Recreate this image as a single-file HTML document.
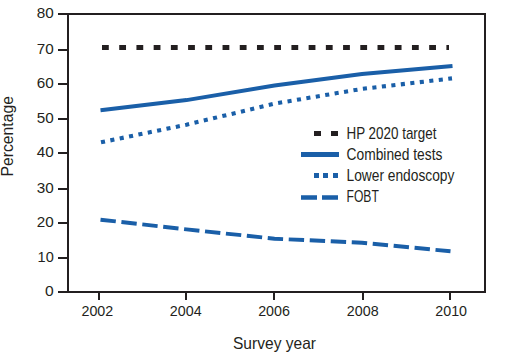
<!DOCTYPE html>
<html><head><meta charset="utf-8"><style>
html,body{margin:0;padding:0;background:#fff;}
svg{display:block;}
text{font-family:"Liberation Sans",sans-serif;fill:#231f20;}

</style></head><body>
<svg width="507" height="355" viewBox="0 0 507 355">
<g stroke="#231f20" stroke-width="2" fill="none">
  <path d="M68 14 H485 V292 H68 Z"/>
  <path d="M58 14H68M58 50H68M58 84H68M58 119H68M58 153H68M58 189H68M58 223H68M58 258H68M58 292H68"/>
  <path d="M99 292V300M186 292V300M274 292V300M363 292V300M450 292V300"/>
</g>
<g class="d" font-size="14" text-anchor="end">
  <text x="53.8" y="18" textLength="17" lengthAdjust="spacingAndGlyphs">80</text>
  <text x="53.8" y="54" textLength="17" lengthAdjust="spacingAndGlyphs">70</text>
  <text x="53.8" y="88" textLength="17" lengthAdjust="spacingAndGlyphs">60</text>
  <text x="53.8" y="123" textLength="17" lengthAdjust="spacingAndGlyphs">50</text>
  <text x="53.8" y="157" textLength="17" lengthAdjust="spacingAndGlyphs">40</text>
  <text x="53.8" y="193" textLength="17" lengthAdjust="spacingAndGlyphs">30</text>
  <text x="53.8" y="227" textLength="17" lengthAdjust="spacingAndGlyphs">20</text>
  <text x="53.8" y="262" textLength="16.2" lengthAdjust="spacingAndGlyphs">10</text>
  <text x="53.8" y="296" textLength="8.7" lengthAdjust="spacingAndGlyphs">0</text>
</g>
<g class="d" font-size="14" text-anchor="middle">
  <text x="97.35" y="316" textLength="31.8" lengthAdjust="spacingAndGlyphs">2002</text>
  <text x="185.7" y="316" textLength="31.8" lengthAdjust="spacingAndGlyphs">2004</text>
  <text x="274.05" y="316" textLength="31.8" lengthAdjust="spacingAndGlyphs">2006</text>
  <text x="362.7" y="316" textLength="31.8" lengthAdjust="spacingAndGlyphs">2008</text>
  <text x="451.15" y="316" textLength="31.8" lengthAdjust="spacingAndGlyphs">2010</text>
</g>
<text x="233" y="349" font-size="16.5" textLength="83" lengthAdjust="spacingAndGlyphs">Survey year</text>
<text transform="translate(13.2,176.5) rotate(-90)" font-size="16" textLength="80.4" lengthAdjust="spacingAndGlyphs">Percentage</text>

<g fill="none" stroke-linecap="butt">
  <path d="M99 47.5H449" stroke="#231f20" stroke-width="5" stroke-dasharray="6.8 10.42" stroke-dashoffset="14.22"/>
  <path d="M100.5 110.2L186.5 100.1L274.5 85.6L362 74.1L452.5 66" stroke="#1a5fa8" stroke-width="4"/>
  <path d="M100.5 142.4L186.5 124.7L274.5 103.6L362 88.9L452 78.4" stroke="#1a5fa8" stroke-width="4.1" stroke-dasharray="4.1 5.45" stroke-dashoffset="-0.5"/>
  <path d="M100.5 219.7L186.5 229.4L274.5 238.7L362 242.7L450.5 251.3" stroke="#1a5fa8" stroke-width="3.9" stroke-dasharray="15.4 5.63"/>

  <path d="M314 133.5H321M331 133.5H338" stroke="#231f20" stroke-width="5"/>
  <path d="M301 154.4H339" stroke="#1a5fa8" stroke-width="5"/>
  <path d="M314 175.5H319M323 175.5H328M333 175.5H338" stroke="#1a5fa8" stroke-width="5"/>
  <path d="M301 197.5H317M322 197.5H338" stroke="#1a5fa8" stroke-width="4.5"/>
</g>
<g font-size="15.75">
  <text x="346.5" y="139" textLength="90" lengthAdjust="spacingAndGlyphs">HP 2020 target</text>
  <text x="346.5" y="159.5" textLength="95.9" lengthAdjust="spacingAndGlyphs">Combined tests</text>
  <text x="346.5" y="181" textLength="107.9" lengthAdjust="spacingAndGlyphs">Lower endoscopy</text>
  <text x="346.5" y="201.5" textLength="32.3" lengthAdjust="spacingAndGlyphs">FOBT</text>
</g>
</svg>
</body></html>
